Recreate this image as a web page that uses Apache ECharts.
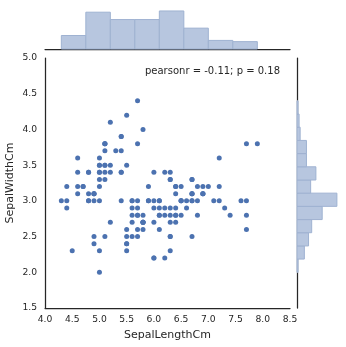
<!DOCTYPE html>
<html>
<head>
<meta charset="utf-8">
<script src="https://cdn.jsdelivr.net/npm/echarts@6/dist/echarts.min.js"></script>
<style>
  html, body { margin: 0; padding: 0; background: #fff; }
  #chart { width: 346px; height: 347px; }
</style>
</head>
<body>
<div id="chart"></div>
<script>
// Iris sepal measurements (cm), one entry per flower
const sepalLength = [
  5.1,4.9,4.7,4.6,5.0,5.4,4.6,5.0,4.4,4.9,5.4,4.8,4.8,4.3,5.8,5.7,5.4,5.1,5.7,5.1,
  5.4,5.1,4.6,5.1,4.8,5.0,5.0,5.2,5.2,4.7,4.8,5.4,5.2,5.5,4.9,5.0,5.5,4.9,4.4,5.1,
  5.0,4.5,4.4,5.0,5.1,4.8,5.1,4.6,5.3,5.0,
  7.0,6.4,6.9,5.5,6.5,5.7,6.3,4.9,6.6,5.2,5.0,5.9,6.0,6.1,5.6,6.7,5.6,5.8,6.2,5.6,
  5.9,6.1,6.3,6.1,6.4,6.6,6.8,6.7,6.0,5.7,5.5,5.5,5.8,6.0,5.4,6.0,6.7,6.3,5.6,5.5,
  5.5,6.1,5.8,5.0,5.6,5.7,5.7,6.2,5.1,5.7,
  6.3,5.8,7.1,6.3,6.5,7.6,4.9,7.3,6.7,7.2,6.5,6.4,6.8,5.7,5.8,6.4,6.5,7.7,7.7,6.0,
  6.9,5.6,7.7,6.3,6.7,7.2,6.2,6.1,6.4,7.2,7.4,7.9,6.4,6.3,6.1,7.7,6.3,6.4,6.0,6.9,
  6.7,6.9,5.8,6.8,6.7,6.7,6.3,6.5,6.2,5.9
];
const sepalWidth = [
  3.5,3.0,3.2,3.1,3.6,3.9,3.4,3.4,2.9,3.1,3.7,3.4,3.0,3.0,4.0,4.4,3.9,3.5,3.8,3.8,
  3.4,3.7,3.6,3.3,3.4,3.0,3.4,3.5,3.4,3.2,3.1,3.4,4.1,4.2,3.1,3.2,3.5,3.1,3.0,3.4,
  3.5,2.3,3.2,3.5,3.8,3.0,3.8,3.2,3.7,3.3,
  3.2,3.2,3.1,2.3,2.8,2.8,3.3,2.4,2.9,2.7,2.0,3.0,2.2,2.9,2.9,3.1,3.0,2.7,2.2,2.5,
  3.2,2.8,2.5,2.8,2.9,3.0,2.8,3.0,2.9,2.6,2.4,2.4,2.7,2.7,3.0,3.4,3.1,2.3,3.0,2.5,
  2.6,3.0,2.6,2.3,2.7,3.0,2.9,2.9,2.5,2.8,
  3.3,2.7,3.0,2.9,3.0,3.0,2.5,2.9,2.5,3.6,3.2,2.7,3.0,2.5,2.8,3.2,3.0,3.8,2.6,2.2,
  3.2,2.8,2.8,2.7,3.3,3.2,2.8,3.0,2.8,3.0,2.8,3.8,2.8,2.8,2.6,3.0,3.4,3.1,3.0,3.1,
  3.1,3.1,2.7,3.2,3.3,3.0,2.5,3.0,3.4,3.0
];

// Marginal histogram bins (edges) and counts
const lengthEdges = [4.3, 4.75, 5.2, 5.65, 6.1, 6.55, 7.0, 7.45, 7.9];
const lengthCounts = [11, 30, 24, 24, 31, 17, 7, 6];
const widthEdges = [2.0, 2.185, 2.369, 2.554, 2.738, 2.923, 3.108, 3.292, 3.477, 3.662, 3.846, 4.031, 4.215, 4.4];
const widthCounts = [1, 7, 11, 14, 24, 38, 13, 18, 9, 9, 3, 2, 1];

// Axis ticks
const xTicks = { min: 4.0, max: 8.5, step: 0.5 };
const yTicks = { min: 1.5, max: 5.0, step: 0.5 };

const statText = 'pearsonr = -0.11; p = 0.18';

const FONT = '"DejaVu Sans", sans-serif';
const TEXT = '#262626';
const AXIS = '#262626';
const DOT = '#4C72B0';
const BAR_FILL = '#B7C6DF';
const BAR_EDGE = '#9FB2D1';

const points = sepalLength.map((v, i) => [v, sepalWidth[i]]);
const topBins = lengthCounts.map((c, i) => [lengthEdges[i], lengthEdges[i + 1], c]);
const sideBins = widthCounts.map((c, i) => [widthEdges[i], widthEdges[i + 1], c]);

const barStyle = { fill: BAR_FILL, stroke: BAR_EDGE, lineWidth: 1 };

const chart = echarts.init(document.getElementById('chart'), null, { renderer: 'canvas' });

const gridBase = { containLabel: false, outerBoundsMode: 'none' };

chart.setOption({
  animation: false,
  backgroundColor: '#fff',
  textStyle: { fontFamily: FONT, color: TEXT },
  grid: [
    Object.assign({ left: 45, top: 58, width: 245, height: 250 }, gridBase),   // joint scatter
    Object.assign({ left: 45, top: 9, width: 245, height: 40 }, gridBase),     // top marginal
    Object.assign({ left: 297, top: 58, width: 42, height: 250 }, gridBase)    // right marginal
  ],
  xAxis: [
    {
      gridIndex: 0, type: 'value',
      min: xTicks.min, max: xTicks.max, interval: xTicks.step,
      name: 'SepalLengthCm', nameLocation: 'middle', nameGap: 22, nameMoveOverlap: false,
      nameTextStyle: { fontFamily: FONT, fontSize: 11, color: TEXT },
      axisLine: { show: true, lineStyle: { color: AXIS, width: 1.25 } },
      axisTick: { show: false },
      splitLine: { show: false },
      axisLabel: { fontFamily: FONT, fontSize: 9.2, color: TEXT, margin: 7,
        formatter: v => v.toFixed(1) }
    },
    {
      gridIndex: 1, type: 'value',
      min: xTicks.min, max: xTicks.max,
      axisLine: { show: true, onZero: false, lineStyle: { color: AXIS, width: 1.25 } },
      axisTick: { show: false }, axisLabel: { show: false }, splitLine: { show: false }
    },
    {
      gridIndex: 2, type: 'value', min: 0, max: 40, show: false
    }
  ],
  yAxis: [
    {
      gridIndex: 0, type: 'value',
      min: yTicks.min, max: yTicks.max, interval: yTicks.step,
      name: 'SepalWidthCm', nameLocation: 'middle', nameGap: 29, nameMoveOverlap: false,
      nameTextStyle: { fontFamily: FONT, fontSize: 11, color: TEXT },
      axisLine: { show: true, lineStyle: { color: AXIS, width: 1.25 } },
      axisTick: { show: false },
      splitLine: { show: false },
      axisLabel: { fontFamily: FONT, fontSize: 9.2, color: TEXT, margin: 8,
        formatter: v => v.toFixed(1) }
    },
    {
      gridIndex: 1, type: 'value', min: 0, max: 32.6, show: false
    },
    {
      gridIndex: 2, type: 'value',
      min: yTicks.min, max: yTicks.max,
      axisLine: { show: true, onZero: false, lineStyle: { color: AXIS, width: 1.25 } },
      axisTick: { show: false }, axisLabel: { show: false }, splitLine: { show: false }
    }
  ],
  series: [
    {
      type: 'custom', xAxisIndex: 1, yAxisIndex: 1,
      data: topBins, encode: { x: [0, 1], y: 2 },
      renderItem: (params, api) => {
        const p0 = api.coord([api.value(0), api.value(2)]);
        const p1 = api.coord([api.value(1), 0]);
        return { type: 'rect', shape: { x: p0[0], y: p0[1], width: p1[0] - p0[0], height: p1[1] - p0[1] }, style: barStyle };
      }
    },
    {
      type: 'custom', xAxisIndex: 2, yAxisIndex: 2,
      data: sideBins, encode: { x: 2, y: [0, 1] },
      renderItem: (params, api) => {
        const p0 = api.coord([0, api.value(1)]);
        const p1 = api.coord([api.value(2), api.value(0)]);
        return { type: 'rect', shape: { x: p0[0], y: p0[1], width: p1[0] - p0[0], height: p1[1] - p0[1] }, style: barStyle };
      }
    },
    {
      type: 'scatter', xAxisIndex: 0, yAxisIndex: 0,
      data: points, symbolSize: 5,
      itemStyle: { color: DOT, opacity: 1 }
    }
  ],
  graphic: [
    {
      type: 'text', right: 66, top: 66,
      style: { text: statText, fontFamily: FONT, fontSize: 10, fill: TEXT }
    }
  ]
});
</script>
</body>
</html>
